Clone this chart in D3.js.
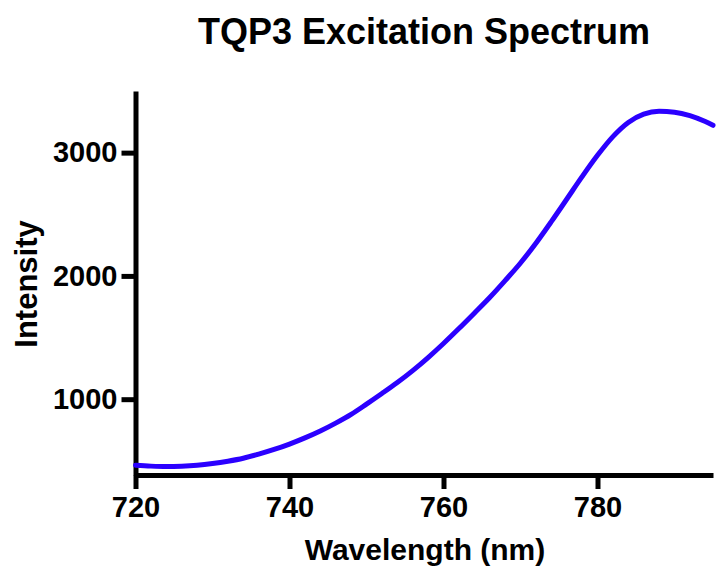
<!DOCTYPE html>
<html>
<head>
<meta charset="utf-8">
<script src="https://cdn.jsdelivr.net/npm/d3@7"></script>
<style>
  body { margin: 0; background: #fff; }
  text { font-family: "Liberation Sans", Arial, Helvetica, sans-serif; font-weight: bold; fill: #000; }
</style>
</head>
<body>
<div id="chart"></div>
<script>
var w = 718, h = 573;

// wavelength (nm) and intensity
var wavelength = [720, 722, 724, 726, 728, 730, 732, 734, 736, 738, 740, 742, 744, 746, 748,
  750, 752, 754, 756, 758, 760, 762, 764, 766, 768, 770, 772, 774, 776, 778, 780, 782,
  784, 786, 788, 790, 792, 794, 795];
var intensity = [465, 457, 453, 456, 464, 478, 497, 521, 554, 592, 636, 686, 742, 806, 877,
  960, 1046, 1135, 1232, 1338, 1452, 1573, 1698, 1825, 1962, 2105, 2265, 2440, 2622, 2805, 2978, 3130,
  3245, 3312, 3335, 3328, 3300, 3252, 3222];

var xTicks = [720, 740, 760, 780];
var yTicks = [1000, 2000, 3000];

var svg = d3.select("#chart")
  .append("svg")
    .attr("width", w)
    .attr("height", h);

// scales
var xScale = d3.scaleLinear().domain([720, 795]).range([135.5, 713]);
var yScale = d3.scaleLinear().domain([385, 3500]).range([475, 91]);

// axes
var xAxis = d3.axisBottom(xScale).tickValues(xTicks).tickSize(14).tickSizeOuter(0).tickPadding(7)
  .tickFormat(d3.format("d"));
var yAxis = d3.axisLeft(yScale).tickValues(yTicks).tickSize(14).tickSizeOuter(0).tickPadding(4)
  .tickFormat(d3.format("d"));

var gx = svg.append("g").attr("transform", "translate(0,475)").call(xAxis);
var gy = svg.append("g").attr("transform", "translate(135.5,0)").call(yAxis);

[gx, gy].forEach(function(g) {
  g.select(".domain").attr("stroke", "#000").attr("stroke-width", 5);
  g.selectAll(".tick line").attr("stroke", "#000").attr("stroke-width", 5);
  g.selectAll(".tick text")
    .attr("font-size", 29)
    .attr("font-family", "Liberation Sans, Arial, sans-serif")
    .attr("font-weight", "bold")
    .attr("fill", "#000");
});

// spectrum line
var line = d3.line()
  .x(function(d, i) { return xScale(wavelength[i]); })
  .y(function(d) { return yScale(d); })
  .curve(d3.curveMonotoneX);

svg.append("path")
  .datum(intensity)
  .attr("d", line)
  .attr("fill", "none")
  .attr("stroke", "#2b00ff")
  .attr("stroke-width", 5)
  .attr("stroke-linecap", "round")
  .attr("stroke-linejoin", "round");

// titles
svg.append("text")
  .attr("x", 424)
  .attr("y", 44)
  .attr("text-anchor", "middle")
  .attr("font-size", 36)
  .text("TQP3 Excitation Spectrum");

svg.append("text")
  .attr("x", 425)
  .attr("y", 560)
  .attr("text-anchor", "middle")
  .attr("font-size", 30)
  .text("Wavelength (nm)");

svg.append("text")
  .attr("transform", "translate(37,284) rotate(-90)")
  .attr("text-anchor", "middle")
  .attr("font-size", 31)
  .text("Intensity");
</script>
</body>
</html>
